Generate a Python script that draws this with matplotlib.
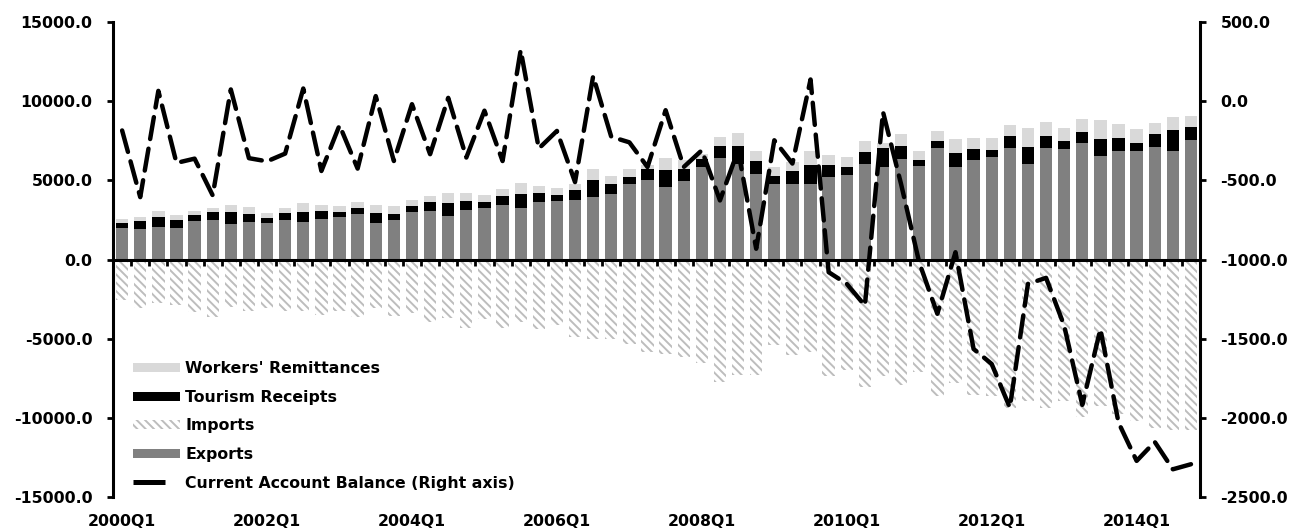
import numpy as np
import matplotlib
matplotlib.use("Agg")
import matplotlib.pyplot as plt
from matplotlib.patches import Patch
from matplotlib.lines import Line2D
from matplotlib.legend_handler import HandlerBase

plt.rcParams['font.family'] = ['DejaVu Sans']
plt.rcParams['font.weight'] = 'bold'
plt.rcParams['hatch.linewidth'] = 1.4

quarters = [f"{y}Q{q}" for y in range(2000, 2015) for q in range(1, 5)]

exports = [1962, 1942, 2025, 1962, 2426, 2468, 2236, 2342, 2300, 2468,
           2342, 2573, 2658, 2848, 2278, 2468, 2996, 3080, 2721, 3143,
           3270, 3439, 3228, 3608, 3671, 3755, 3945, 4135, 4767, 5020,
           4598, 4978, 5843, 6435, 6055, 5422, 4746, 4767, 4746, 5190,
           5337, 6013, 5843, 6329, 5907, 7025, 5864, 6308, 6456, 7046,
           6034, 7046, 6983, 7342, 6519, 6878, 6836, 7109, 6878, 7553]
tourism_top = [2298, 2426, 2679, 2510, 2785, 2996, 2996, 2890, 2637, 2932,
               2975, 3059, 3017, 3249, 2932, 2890, 3354, 3608, 3544, 3692,
               3650, 4008, 4156, 4198, 4050, 4367, 5000, 4767, 5210, 5738,
               5654, 5717, 6350, 7172, 7172, 6245, 5274, 5570, 5970, 5970,
               5843, 6794, 7046, 7193, 6287, 7489, 6709, 6962, 6920, 7806,
               7109, 7806, 7489, 8038, 7616, 7658, 7383, 7911, 8165, 8376]
remit_top = [2532, 2658, 3080, 2785, 3038, 3270, 3460, 3333, 2954, 3228,
             3544, 3460, 3354, 3608, 3418, 3354, 3734, 3987, 4177, 4177,
             4050, 4430, 4830, 4620, 4535, 4770, 5738, 5274, 5696, 5950,
             6414, 6266, 6688, 7742, 7995, 6878, 5843, 6160, 6878, 6625,
             6456, 7510, 7350, 7932, 6836, 8122, 7637, 7700, 7658, 8502,
             8333, 8713, 8333, 8882, 8797, 8586, 8228, 8608, 9008, 9050]
imports = [-2553, -3059, -2743, -2869, -3291, -3608, -3017, -3270, -3059, -3270,
           -3228, -3502, -3228, -3650, -3059, -3565, -3397, -3945, -3692, -4345,
           -3755, -4325, -3924, -4409, -4156, -4894, -5042, -5042, -5337, -5844,
           -5991, -6181, -6519, -7763, -7278, -7300, -5421, -6034, -5844, -7363,
           -6983, -8059, -7342, -7932, -7109, -8650, -7806, -8586, -8650, -9388,
           -8945, -9367, -8945, -9937, -9240, -9767, -10210, -10612, -10780, -10738]
current_account = [-185, -606, 65, -390, -363, -595, 74, -360, -380, -331,
                   80, -441, -152, -426, 32, -378, -19, -335, 21, -356,
                   -60, -378, 323, -299, -188, -511, 158, -225, -260, -416,
                   -57, -416, -310, -627, -310, -932, -247, -394, 137, -1080,
                   -1154, -1291, -68, -525, -1019, -1343, -954, -1565, -1660, -1935,
                   -1154, -1116, -1418, -1918, -1439, -2030, -2272, -2152, -2325, -2293]

exports = np.array(exports, float)
tourism = np.array(tourism_top, float) - exports
remit = np.array(remit_top, float) - np.array(tourism_top, float)
imports = np.array(imports, float)
ca = np.array(current_account, float)
x = np.arange(len(quarters))

FS = 11.3
HATCH = '\\\\\\\\'
HCOL = '#bdbdbd'

fig = plt.figure(figsize=(13.01, 5.29), dpi=100)
ax = fig.add_axes([0.0869, 0.0605, 0.8355, 0.8979])
ax2 = ax.twinx()

w = 0.68
ax.bar(x, exports, w, color='#808080', zorder=2)
ax.bar(x, tourism, w, bottom=exports, color='#000000', zorder=2)
ax.bar(x, remit, w, bottom=exports + tourism, color='#d9d9d9', zorder=2)
ax.bar(x, imports, w, color='white', edgecolor=HCOL, hatch=HATCH, linewidth=0, zorder=2)

ax2.plot(x, ca, color='black', lw=3.2, dashes=(5, 2.2), dash_capstyle='round',
         solid_capstyle='round', zorder=5)

ax.set_xlim(-0.5, len(quarters) - 0.5)
ax.set_ylim(-15000, 15000)
ax2.set_ylim(-2500, 500)
ax.set_yticks(np.arange(-15000, 15001, 5000))
ax2.set_yticks(np.arange(-2500, 501, 500))
ax.yaxis.set_major_formatter(matplotlib.ticker.FormatStrFormatter('%.1f'))
ax2.yaxis.set_major_formatter(matplotlib.ticker.FormatStrFormatter('%.1f'))

for s in ['top', 'right']:
    ax.spines[s].set_visible(False)
for s in ['top', 'left', 'bottom']:
    ax2.spines[s].set_visible(False)
ax.spines['left'].set_linewidth(2.2)
ax2.spines['right'].set_linewidth(2.2)
ax.spines['bottom'].set_position(('data', 0))
ax.spines['bottom'].set_linewidth(2.2)
ax.spines['bottom'].set_zorder(3)

ax.set_xticks(np.arange(0.5, len(quarters) - 0.5, 1))
ax.tick_params(axis='x', length=4, width=2, direction='out', labelbottom=False)
ax.tick_params(axis='y', length=4.3, width=2, labelsize=FS, pad=10.5)
ax2.tick_params(axis='y', length=4.3, width=2, labelsize=FS, pad=10.5)

sec = ax.secondary_xaxis('bottom')
sec.set_xticks(x[::8], [quarters[i] for i in x[::8]])
sec.tick_params(length=0, labelsize=FS, pad=12)
sec.spines['bottom'].set_visible(False)


class ShortLineHandler(HandlerBase):
    def create_artists(self, legend, orig_handle, xdescent, ydescent, width, height, fontsize, trans):
        y = height / 2 - ydescent
        ln = Line2D([-xdescent, -xdescent + width * 0.68], [y, y], color='black', lw=3.6,
                    solid_capstyle='butt', transform=trans)
        return [ln]


ca_handle = Line2D([0], [0], color='black', lw=3.6)
handles = [Patch(facecolor='#d9d9d9', label="Workers' Remittances"),
           Patch(facecolor='black', label='Tourism Receipts'),
           Patch(facecolor='white', edgecolor=HCOL, hatch=HATCH, linewidth=0, label='Imports'),
           Patch(facecolor='#808080', label='Exports'),
           ca_handle]
labels = ["Workers' Remittances", 'Tourism Receipts', 'Imports', 'Exports',
          'Current Account Balance (Right axis)']
leg = ax2.legend(handles, labels, loc='lower left', bbox_to_anchor=(0.0123, 0.0), frameon=False,
                 fontsize=FS, handlelength=3.0, handleheight=0.5, labelspacing=0.87,
                 handletextpad=0.36, borderaxespad=0,
                 handler_map={ca_handle: ShortLineHandler()})

fig.savefig('out.png', dpi=100)
